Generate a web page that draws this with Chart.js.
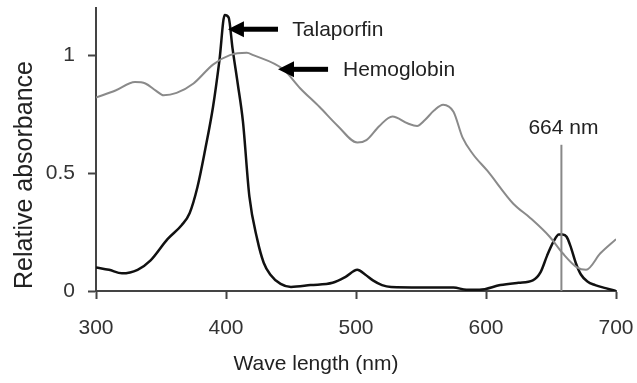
<!DOCTYPE html>
<html>
<head>
    <title>Relative absorbance - Talaporfin / Hemoglobin</title>
    <script src="https://cdn.jsdelivr.net/npm/chart.js"></script>
    <style>
        body { margin: 0; background: #fff; }
    </style>
</head>
<body>
    <canvas id="spectrum" width="637" height="383"></canvas>

    <script>
        // data
        const xTicks = [300, 400, 500, 600, 700];
        const yTicks = [0, 0.5, 1];

        const hbNm  = [300, 315, 330, 338, 346, 352, 362, 375, 390, 403, 416, 421, 444, 457, 472, 486, 501, 508, 518, 528, 540, 547, 553, 560, 567, 575, 582, 590, 601, 621, 634, 649, 659, 670, 677, 688, 700];
        const hbVal = [0.82, 0.85, 0.886, 0.88, 0.85, 0.83, 0.84, 0.88, 0.96, 1.0, 1.01, 1.0, 0.94, 0.86, 0.78, 0.70, 0.63, 0.64, 0.70, 0.74, 0.71, 0.70, 0.725, 0.765, 0.79, 0.76, 0.65, 0.58, 0.51, 0.37, 0.31, 0.23, 0.16, 0.10, 0.09, 0.16, 0.22];

        const tpNm  = [300, 310, 320, 332, 342, 355, 366, 372, 378, 384, 390, 395, 399, 402, 405, 409, 413, 418, 424, 429, 434, 442, 450, 465, 482, 492, 501, 507, 513, 520, 527, 550, 575, 585, 595, 611, 625, 636, 642, 647, 652, 656, 659, 662, 665, 669, 673, 678, 684, 692, 700];
        const tpVal = [0.10, 0.09, 0.075, 0.09, 0.13, 0.22, 0.28, 0.33, 0.44, 0.60, 0.78, 0.98, 1.17, 1.16, 1.03, 0.88, 0.72, 0.40, 0.22, 0.12, 0.07, 0.03, 0.017, 0.025, 0.035, 0.06, 0.09, 0.07, 0.045, 0.025, 0.017, 0.015, 0.015, 0.005, 0.005, 0.025, 0.035, 0.045, 0.08, 0.15, 0.21, 0.24, 0.24, 0.23, 0.19, 0.12, 0.07, 0.04, 0.025, 0.012, 0.0];

        // marker line and arrow labels (in data units)
        const markerNm = 658, markerTop = 0.62, markerLabel = '664 nm';
        const arrowLabels = [
            { text: 'Talaporfin', tipX: 401.5, endX: 440, textX: 451, y: 1.11 },
            { text: 'Hemoglobin', tipX: 440, endX: 478.5, textX: 490, y: 0.94 }
        ];

        const FONT = '"Liberation Sans", Arial, sans-serif';
        const axisColor = '#444';

        const toPoints = (xs, ys) => xs.map((x, i) => ({ x: x, y: ys[i] }));

        // draws the 664 nm line, arrows and both axis titles
        const notes = {
            id: 'notes',
            afterDatasetsDraw(chart) {
                const ctx = chart.ctx;
                const xs = chart.scales.x, ys = chart.scales.y;
                ctx.save();

                // vertical marker
                const mx = xs.getPixelForValue(markerNm);
                ctx.strokeStyle = '#888';
                ctx.lineWidth = 2;
                ctx.beginPath();
                ctx.moveTo(mx, ys.getPixelForValue(0));
                ctx.lineTo(mx, ys.getPixelForValue(markerTop));
                ctx.stroke();
                ctx.fillStyle = '#222';
                ctx.font = '21px ' + FONT;
                ctx.textAlign = 'center';
                ctx.textBaseline = 'middle';
                ctx.fillText(markerLabel, mx + 2, ys.getPixelForValue(markerTop) - 17);

                // arrows
                arrowLabels.forEach(a => {
                    const tx = xs.getPixelForValue(a.tipX);
                    const ex = xs.getPixelForValue(a.endX);
                    const y = ys.getPixelForValue(a.y);
                    ctx.fillStyle = '#000';
                    ctx.fillRect(tx + 12, y - 2.5, ex - tx - 12, 5);
                    ctx.beginPath();
                    ctx.moveTo(tx, y);
                    ctx.lineTo(tx + 16, y - 8);
                    ctx.lineTo(tx + 16, y + 8);
                    ctx.closePath();
                    ctx.fill();
                    ctx.fillStyle = '#222';
                    ctx.textAlign = 'left';
                    ctx.fillText(a.text, xs.getPixelForValue(a.textX), y + 1);
                });

                // x axis title
                ctx.textAlign = 'center';
                ctx.fillText('Wave length (nm)', 316, 364);

                // y axis title
                ctx.translate(25, 175);
                ctx.rotate(-Math.PI / 2);
                ctx.font = '25px ' + FONT;
                ctx.fillText('Relative absorbance', 0, 0);
                ctx.restore();
            }
        };

        const ctx = document.getElementById('spectrum').getContext('2d');
        const chart = new Chart(ctx, {
            type: 'line',
            data: {
                datasets: [
                    {
                        label: 'Hemoglobin',
                        data: toPoints(hbNm, hbVal),
                        borderColor: '#8a8a8a',
                        borderWidth: 2,
                        pointRadius: 0,
                        cubicInterpolationMode: 'monotone'
                    },
                    {
                        label: 'Talaporfin',
                        data: toPoints(tpNm, tpVal),
                        borderColor: '#111',
                        borderWidth: 2.5,
                        pointRadius: 0,
                        cubicInterpolationMode: 'monotone'
                    }
                ]
            },
            options: {
                responsive: false,
                animation: false,
                layout: { padding: { top: 8, right: 21, left: 0, bottom: 0 } },
                plugins: {
                    legend: { display: false },
                    tooltip: { enabled: false }
                },
                scales: {
                    x: {
                        type: 'linear',
                        min: 300,
                        max: 700,
                        afterBuildTicks: s => { s.ticks = xTicks.map(v => ({ value: v })); },
                        afterFit: s => { s.height = 92; s.paddingLeft = 0; s.paddingRight = 0; },
                        grid: { drawOnChartArea: false, tickLength: 8, tickWidth: 2, tickColor: axisColor },
                        border: { color: axisColor, width: 2 },
                        ticks: { color: '#333', padding: 17, maxRotation: 0, font: { family: FONT, size: 21 } }
                    },
                    y: {
                        min: 0,
                        max: 1.2,
                        afterBuildTicks: s => { s.ticks = yTicks.map(v => ({ value: v })); },
                        afterFit: s => { s.width = 96; s.paddingTop = 0; s.paddingBottom = 0; },
                        grid: { drawOnChartArea: false, tickLength: 8, tickWidth: 2, tickColor: axisColor },
                        border: { color: axisColor, width: 2 },
                        ticks: {
                            color: '#333',
                            padding: 13,
                            font: { family: FONT, size: 21 },
                            callback: v => String(v)
                        }
                    }
                }
            },
            plugins: [notes]
        });
    </script>
</body>
</html>
